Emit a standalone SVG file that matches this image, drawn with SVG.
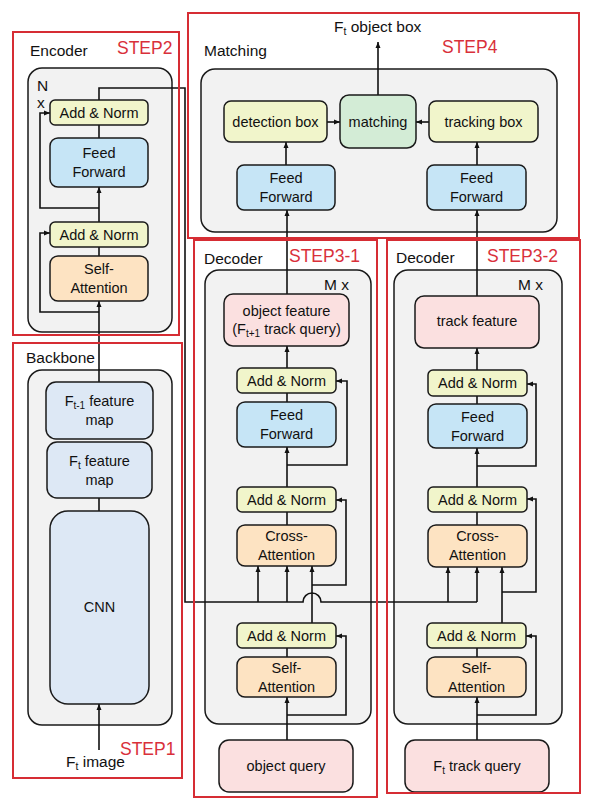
<svg xmlns="http://www.w3.org/2000/svg" width="590" height="802" viewBox="0 0 590 802">
<style>
text{font-family:"Liberation Sans",Arial,sans-serif;fill:#111}
.n{font-size:14.5px;text-anchor:middle}
.lbl{font-size:15.5px}
.step{font-size:17.5px;fill:#d9303a}
.ctr{fill:#f2f2f2;stroke:#1a1a1a;stroke-width:1.5}
.red{fill:none;stroke:#d62d34;stroke-width:2}
.an{fill:#f1f5cb;stroke:#1a1a1a;stroke-width:1.5}
.ff{fill:#c6e5f6;stroke:#1a1a1a;stroke-width:1.5}
.sa{fill:#fde3c2;stroke:#1a1a1a;stroke-width:1.5}
.pk{fill:#fbe0e0;stroke:#1a1a1a;stroke-width:1.5}
.bb{fill:#dde8f5;stroke:#1a1a1a;stroke-width:1.5}
.gr{fill:#d3ecd6;stroke:#1a1a1a;stroke-width:1.5}
.c{fill:none;stroke:#111;stroke-width:1.6}
.a{marker-end:url(#ah)}
</style>
<defs>
<marker id="ah" markerUnits="userSpaceOnUse" markerWidth="6" markerHeight="6" viewBox="0 0 6 6" refX="6" refY="3" orient="auto">
<path d="M0,0.5 L6,3 L0,5.5 Z" fill="#111"/>
</marker>
</defs>
<rect width="590" height="802" fill="#fff"/>

<g id="containers">
<rect class="ctr" x="28" y="68" width="144" height="264" rx="14"/>
<rect class="ctr" x="28" y="370" width="144" height="355" rx="14"/>
<rect class="ctr" x="201" y="69" width="356" height="163" rx="14"/>
<rect class="ctr" x="205" y="270" width="166" height="454" rx="14"/>
<rect class="ctr" x="394" y="270" width="168" height="454" rx="14"/>
</g>

<g id="connectors">
<path class="c a" d="M99,750 V704"/>
<path class="c" d="M99,511 V498"/>
<path class="c a" d="M99,382 V301"/>
<path class="c a" d="M99,312 H40 V233 H50"/>
<path class="c" d="M99,256 V247"/>
<path class="c a" d="M99,222 V187"/>
<path class="c a" d="M99,208 H40 V113 H50"/>
<path class="c" d="M99,138 V125"/>
<path class="c" d="M99,100 V88 H185 V602 H303 A9,9 0 0 1 321,602 H477"/>
<path class="c a" d="M258,602 V566"/>
<path class="c a" d="M287,602 V566"/>
<path class="c a" d="M448,602 V567"/>
<path class="c a" d="M477,602 V567"/>

<path class="c a" d="M287,740 V697"/>
<path class="c a" d="M287,715 H346 V636 H336"/>
<path class="c" d="M287,657 V648"/>
<path class="c a" d="M312,623 V566"/>
<path class="c a" d="M312,585 H346 V500 H336"/>
<path class="c" d="M287,525 V512"/>
<path class="c a" d="M287,487 V447"/>
<path class="c a" d="M287,465 H347 V381 H336"/>
<path class="c" d="M287,402 V393"/>
<path class="c a" d="M287,368 V346"/>
<path class="c a" d="M287,294 V210"/>

<path class="c a" d="M477,740 V697"/>
<path class="c a" d="M477,715 H536 V636 H526"/>
<path class="c" d="M477,657 V648"/>
<path class="c a" d="M502,623 V567"/>
<path class="c a" d="M502,592 H536 V499 H527"/>
<path class="c" d="M477,525 V512"/>
<path class="c a" d="M477,487 V448"/>
<path class="c a" d="M477,466 H536 V384 H527"/>
<path class="c" d="M477,404 V396"/>
<path class="c a" d="M477,370 V348"/>
<path class="c a" d="M477,296 V210"/>

<path class="c a" d="M286,165 V142"/>
<path class="c a" d="M477,165 V142"/>
<path class="c a" d="M327,122 H340"/>
<path class="c a" d="M429,122 H416"/>
<path class="c a" d="M378,95 V42"/>
</g>

<g id="enc-addnorm2"><rect class="an" x="50" y="100" width="98" height="25" rx="5"/><text class="n" x="99" y="117.5">Add &amp; Norm</text></g>
<g id="enc-ff"><rect class="ff" x="50" y="138" width="98" height="49" rx="8"/><text class="n" x="99" y="158">Feed</text><text class="n" x="99" y="177">Forward</text></g>
<g id="enc-addnorm1"><rect class="an" x="50" y="222" width="98" height="25" rx="5"/><text class="n" x="99" y="239.5">Add &amp; Norm</text></g>
<g id="enc-selfattn"><rect class="sa" x="50" y="256" width="98" height="45" rx="8"/><text class="n" x="99" y="274">Self-</text><text class="n" x="99" y="293">Attention</text></g>

<g id="bb-ft1map"><rect class="bb" x="46" y="382" width="107" height="57" rx="10"/><text class="n" x="99.5" y="406">F<tspan font-size="10" dy="3">t-1</tspan><tspan dy="-3"> feature</tspan></text><text class="n" x="99.5" y="425">map</text></g>
<g id="bb-ftmap"><rect class="bb" x="47" y="442" width="105" height="56" rx="10"/><text class="n" x="99.5" y="466">F<tspan font-size="10" dy="3">t</tspan><tspan dy="-3"> feature</tspan></text><text class="n" x="99.5" y="485">map</text></g>
<g id="bb-cnn"><rect class="bb" x="50" y="511" width="99" height="193" rx="18"/><text class="n" x="99.5" y="612">CNN</text></g>

<g id="m-det"><rect class="an" x="224" y="101" width="103" height="41" rx="7"/><text class="n" x="275.5" y="127">detection box</text></g>
<g id="m-match"><rect class="gr" x="340" y="95" width="76" height="53" rx="9"/><text class="n" x="378" y="127">matching</text></g>
<g id="m-track"><rect class="an" x="429" y="101" width="109" height="41" rx="7"/><text class="n" x="483.5" y="127">tracking box</text></g>
<g id="m-ffl"><rect class="ff" x="237" y="165" width="98" height="45" rx="7"/><text class="n" x="286" y="183">Feed</text><text class="n" x="286" y="202">Forward</text></g>
<g id="m-ffr"><rect class="ff" x="427" y="165" width="99" height="45" rx="7"/><text class="n" x="476.5" y="183">Feed</text><text class="n" x="476.5" y="202">Forward</text></g>

<g id="ld-objfeat"><rect class="pk" x="224" y="294" width="125" height="52" rx="9"/><text class="n" x="286.5" y="316">object feature</text><text class="n" x="286.5" y="334">(F<tspan font-size="10" dy="3">t+1</tspan><tspan dy="-3"> track query)</tspan></text></g>
<g id="ld-an2"><rect class="an" x="237" y="368" width="99" height="25" rx="5"/><text class="n" x="286.5" y="385.5">Add &amp; Norm</text></g>
<g id="ld-ff"><rect class="ff" x="237" y="402" width="99" height="45" rx="8"/><text class="n" x="286.5" y="420">Feed</text><text class="n" x="286.5" y="439">Forward</text></g>
<g id="ld-an1"><rect class="an" x="237" y="487" width="99" height="25" rx="5"/><text class="n" x="286.5" y="504.5">Add &amp; Norm</text></g>
<g id="ld-ca"><rect class="sa" x="237" y="525" width="99" height="41" rx="8"/><text class="n" x="286.5" y="541">Cross-</text><text class="n" x="286.5" y="560">Attention</text></g>
<g id="ld-an0"><rect class="an" x="237" y="623" width="99" height="25" rx="5"/><text class="n" x="286.5" y="640.5">Add &amp; Norm</text></g>
<g id="ld-sa"><rect class="sa" x="237" y="657" width="99" height="40" rx="8"/><text class="n" x="286.5" y="673">Self-</text><text class="n" x="286.5" y="692">Attention</text></g>
<g id="ld-objquery"><rect class="pk" x="219" y="740" width="134" height="52" rx="10"/><text class="n" x="286" y="771">object query</text></g>

<g id="rd-trackfeat"><rect class="pk" x="415" y="296" width="124" height="52" rx="9"/><text class="n" x="477" y="326">track feature</text></g>
<g id="rd-an2"><rect class="an" x="428" y="370" width="99" height="26" rx="5"/><text class="n" x="477.5" y="388">Add &amp; Norm</text></g>
<g id="rd-ff"><rect class="ff" x="428" y="404" width="99" height="44" rx="8"/><text class="n" x="477.5" y="422">Feed</text><text class="n" x="477.5" y="441">Forward</text></g>
<g id="rd-an1"><rect class="an" x="428" y="487" width="99" height="25" rx="5"/><text class="n" x="477.5" y="504.5">Add &amp; Norm</text></g>
<g id="rd-ca"><rect class="sa" x="428" y="525" width="99" height="42" rx="8"/><text class="n" x="477.5" y="541">Cross-</text><text class="n" x="477.5" y="560">Attention</text></g>
<g id="rd-an0"><rect class="an" x="427" y="623" width="99" height="25" rx="5"/><text class="n" x="476.5" y="640.5">Add &amp; Norm</text></g>
<g id="rd-sa"><rect class="sa" x="427" y="657" width="99" height="40" rx="8"/><text class="n" x="476.5" y="673">Self-</text><text class="n" x="476.5" y="692">Attention</text></g>
<g id="rd-trackquery"><rect class="pk" x="405" y="740" width="144" height="52" rx="10"/><text class="n" x="477" y="771">F<tspan font-size="10" dy="3">t</tspan><tspan dy="-3"> track query</tspan></text></g>

<g id="steps">
<rect class="red" x="13" y="32" width="166" height="303"/>
<rect class="red" x="13" y="343" width="169" height="435"/>
<rect class="red" x="188" y="13" width="391" height="225"/>
<rect class="red" x="194" y="240" width="183" height="557"/>
<rect class="red" x="387" y="240" width="193" height="553"/>
</g>

<g id="labels">
<text class="lbl" x="30" y="56">Encoder</text>
<text class="step" x="117" y="54">STEP2</text>
<text class="lbl" x="37" y="91">N</text>
<text class="lbl" x="37" y="108">x</text>
<text class="lbl" x="26" y="363">Backbone</text>
<text class="step" x="120" y="755">STEP1</text>
<text class="lbl" x="66" y="767">F<tspan font-size="10.5" dy="3">t</tspan><tspan dy="-3"> image</tspan></text>
<text class="lbl" x="334" y="32">F<tspan font-size="10.5" dy="3">t</tspan><tspan dy="-3"> object box</tspan></text>
<text class="lbl" x="204" y="56">Matching</text>
<text class="step" x="442" y="53">STEP4</text>
<text class="lbl" x="204" y="264">Decoder</text>
<text class="step" x="289" y="262">STEP3-1</text>
<text class="lbl" x="324" y="290">M x</text>
<text class="lbl" x="396" y="263">Decoder</text>
<text class="step" x="487" y="262">STEP3-2</text>
<text class="lbl" x="518" y="290">M x</text>
</g>
</svg>
